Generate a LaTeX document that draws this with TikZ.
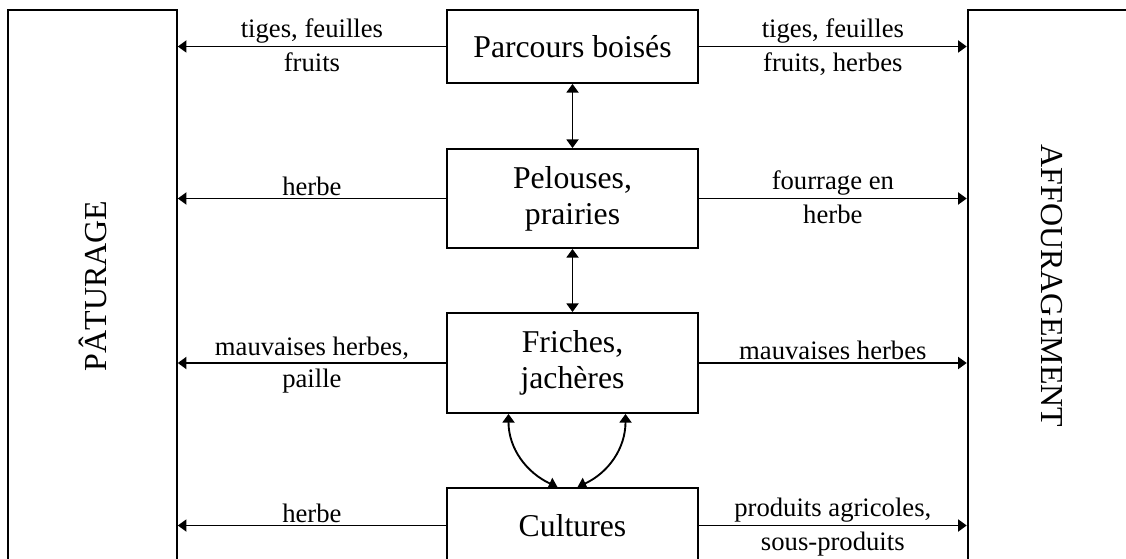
\documentclass[tikz,border=0pt]{standalone}
\usepackage{fontspec}
\setmainfont{Liberation Serif}
\usetikzlibrary{arrows.meta,calc,positioning}

\tikzset{
  milieu/.style={draw,line width=1.4pt,minimum width=188.25pt,align=center,
    inner sep=0pt,font=\fontsize{23.8}{27}\selectfont},
  usage/.style={draw,line width=1.4pt,minimum width=126.5pt,minimum height=414pt,
    inner sep=0pt,font=\fontsize{24}{28}\selectfont},
  flux/.style={->,line width=1.4pt},
  lab/.style={inner sep=1.5pt,font=\fontsize{20}{24}\selectfont},
  labb/.style={inner sep=4pt,font=\fontsize{20}{24}\selectfont}
}

\begin{document}
\begin{tikzpicture}[x=0.75pt,y=-0.75pt,>={Triangle[length=6.5pt,width=9pt]}]
\useasboundingbox (0,0) rectangle (1126,559);
\clip (0,0) rectangle (1126,559);
% usages
\node[usage] (past) at (92.5,286) {\rotatebox{90}{PÂTURAGE}};
\node[usage] (affo) at (1052,286) {\rotatebox{-90}{AFFOURAGEMENT}};
% milieux
\node[milieu,minimum height=54.75pt] (parc) at (572.5,46.5) {Parcours boisés};
\node[milieu,minimum height=74.25pt] (pel) at (572.5,198.5) {Pelouses,\\prairies};
\node[milieu,minimum height=75pt] (fri) at (572.5,363) {Friches,\\jachères};
\node[milieu,minimum height=56.25pt] (cult) at (572.5,525.5) {Cultures};
% liens entre milieux
\draw[<->,line width=1.4pt] (parc.south) -- (pel.north);
\draw[<->,line width=1.4pt] (pel.south) -- (fri.north);
\draw[<->,line width=1.4pt] ($(fri.south)+(-64,0)$) to[out=-90,in=155] ($(cult.north)+(-15,0)$);
\draw[<->,line width=1.4pt] ($(fri.south)+(53,0)$) to[out=-90,in=25] ($(cult.north)+(5,0)$);
% vers le paturage
\draw[flux] (parc.west) -- (parc.west -| past.east)
  node[lab,midway,above] {tiges, feuilles} node[labb,midway,below] {fruits};
\draw[flux] (pel.west) -- (pel.west -| past.east)
  node[lab,midway,above] {herbe};
\draw[flux] (fri.west) -- (fri.west -| past.east)
  node[lab,midway,above] {mauvaises herbes,} node[labb,midway,below] {paille};
\draw[flux] (cult.west) -- (cult.west -| past.east)
  node[lab,midway,above] {herbe};
% vers l'affouragement
\draw[flux] (parc.east) -- (parc.east -| affo.west)
  node[lab,midway,above] {tiges, feuilles} node[labb,midway,below] {fruits, herbes};
\draw[flux] (pel.east) -- (pel.east -| affo.west)
  node[lab,midway,above] {fourrage en} node[labb,midway,below] {herbe};
\draw[flux] (fri.east) -- (fri.east -| affo.west)
  node[lab,midway,above] {mauvaises herbes};
\draw[flux] (cult.east) -- (cult.east -| affo.west)
  node[lab,midway,above] {produits agricoles,} node[labb,midway,below] {sous-produits};
\end{tikzpicture}
\end{document}
